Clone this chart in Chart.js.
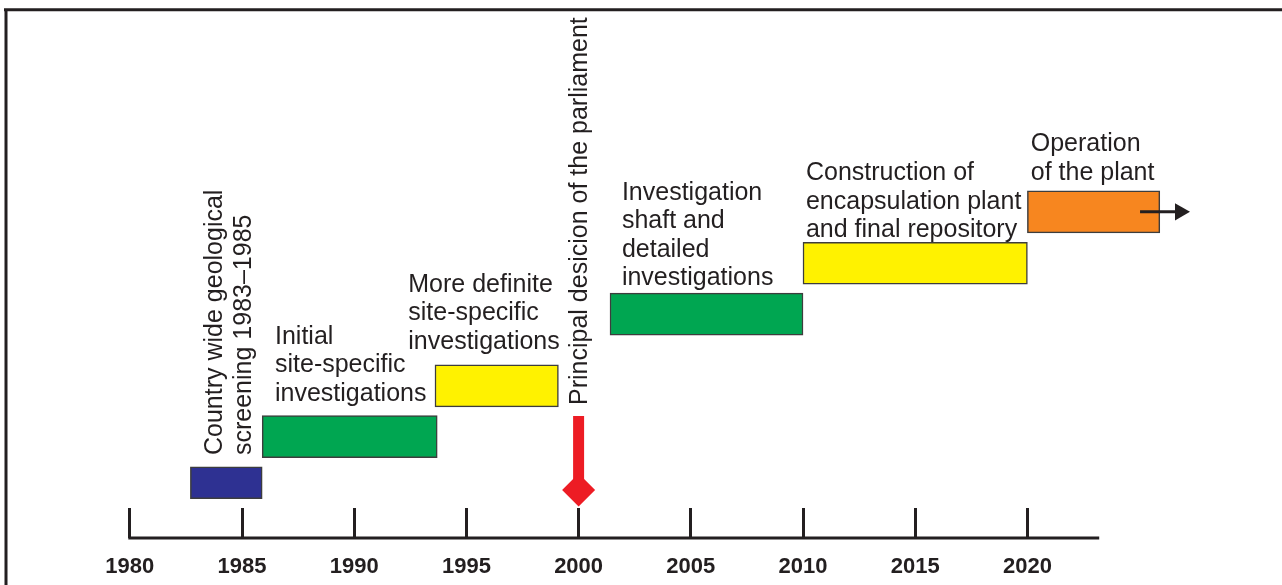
<!DOCTYPE html>
<html><head><meta charset="utf-8">
<script src="https://cdn.jsdelivr.net/npm/chart.js@4.4.1/dist/chart.umd.min.js"></script>
<style>html,body{margin:0;padding:0;background:#fff}canvas{display:block}</style>
</head><body>
<canvas id="c" width="1282" height="585"></canvas>
<script>
// ---- data ----
const phases = [
  'Country wide geological screening 1983–1985',
  'Initial site-specific investigations',
  'More definite site-specific investigations',
  'Investigation shaft and detailed investigations',
  'Construction of encapsulation plant and final repository',
  'Operation of the plant'
];
const startYears = [1982.7, 1985.9, 1993.6, 2001.4, 2010.0, 2020.0];
const endYears   = [1985.9, 1993.7, 1999.1, 2010.0, 2020.0, 2025.9];
const lanes      = [0.513, 1.451, 2.486, 3.943, 4.979, 6.026];
const phaseColors = ['#2e3192', '#00a651', '#fff200', '#00a651', '#fff200', '#f7861f'];
const tickYears = [1980, 1985, 1990, 1995, 2000, 2005, 2010, 2015, 2020];
const axisEndYear = 2023.2;
const decisionYear = 2000;
const decisionLevels = [1.872, 0.366];
const arrowYears = [2025.02, 2026.8];

const notes = [
  {lines: ['Country wide geological', 'screening 1983–1985'], year: 1984.11, level: 1.078, rotate: true},
  {lines: ['Principal desicion of the parliament'], year: 2000.37, level: 2.096, rotate: true},
  {lines: ['Initial', 'site-specific', 'investigations'], year: 1986.47, level: 3.337},
  {lines: ['More definite', 'site-specific', 'investigations'], year: 1992.41, level: 4.395},
  {lines: ['Investigation', 'shaft and', 'detailed', 'investigations'], year: 2001.93, level: 6.267},
  {lines: ['Construction of', 'encapsulation plant', 'and final repository'], year: 2010.13, level: 6.673},
  {lines: ['Operation', 'of the plant'], year: 2020.15, level: 7.263}
];

const INK = '#231f20';
const mainIdx = [1, 2, 3, 4, 5];
const smallIdx = [0];
const mkBar = (idx, thick) => ({
  type: 'bar',
  label: idx.map(i => phases[i]).join(' / '),
  data: idx.map(i => ({x: [startYears[i], endYears[i]], y: lanes[i]})),
  backgroundColor: idx.map(i => phaseColors[i]),
  borderColor: '#3d3d3d',
  borderWidth: 1.5,
  borderSkipped: false,
  grouped: false,
  barPercentage: 1,
  categoryPercentage: 1,
  maxBarThickness: thick,
  order: 5
});

const framePlugin = {
  id: 'frame',
  afterDraw(chart) {
    const {ctx, scales: {x}, chartArea} = chart;
    ctx.save();
    ctx.strokeStyle = INK;
    ctx.lineWidth = 3;
    ctx.beginPath();
    ctx.moveTo(4, 9.8); ctx.lineTo(1282, 9.8);
    ctx.moveTo(6, 8.3); ctx.lineTo(6, 585);
    ctx.stroke();
    // axis baseline
    const yb = chartArea.bottom + 30;
    ctx.beginPath();
    ctx.moveTo(x.getPixelForValue(tickYears[0]) - 1.5, yb);
    ctx.lineTo(x.getPixelForValue(axisEndYear), yb);
    ctx.stroke();
    ctx.restore();
  }
};

const notesPlugin = {
  id: 'notes',
  afterDatasetsDraw(chart) {
    const {ctx, scales: {x, y}} = chart;
    ctx.save();
    ctx.fillStyle = INK;
    ctx.font = '25px "Liberation Sans", Arial, sans-serif';
    ctx.textAlign = 'left';
    ctx.textBaseline = 'alphabetic';
    notes.forEach(n => {
      ctx.save();
      ctx.translate(x.getPixelForValue(n.year), y.getPixelForValue(n.level));
      if (n.rotate) ctx.rotate(-Math.PI / 2);
      n.lines.forEach((t, i) => ctx.fillText(t, 0, i * (n.rotate ? 29 : 28.5)));
      ctx.restore();
    });
    ctx.restore();
  }
};

new Chart(document.getElementById('c'), {
  data: {
    datasets: [
      mkBar(mainIdx, 42),
      mkBar(smallIdx, 32),
      {
        type: 'line',
        label: 'Principal decision',
        data: decisionLevels.map(l => ({x: decisionYear, y: l})),
        borderColor: '#ed1c24',
        borderWidth: 11,
        borderCapStyle: 'butt',
        pointRadius: [0, 16.5],
        pointStyle: 'rectRot',
        pointBackgroundColor: '#ed1c24',
        pointBorderWidth: 0,
        order: 1
      },
      {
        type: 'line',
        label: 'continues',
        data: arrowYears.map(v => ({x: v, y: lanes[5]})),
        borderColor: INK,
        borderWidth: 3,
        pointRadius: [0, 10],
        pointStyle: 'triangle',
        rotation: 90,
        pointBackgroundColor: INK,
        pointBorderWidth: 0,
        order: 0
      }
    ]
  },
  options: {
    indexAxis: 'y',
    responsive: false,
    animation: false,
    devicePixelRatio: 1,
    layout: {padding: {left: 129.8, right: 30.2, top: 0, bottom: 0}},
    plugins: {legend: {display: false}, tooltip: {enabled: false}},
    scales: {
      x: {
        type: 'linear',
        min: 1980, max: 2030,
        position: 'bottom',
        offset: false,
        afterFit: s => { s.height = 77; },
        border: {display: false},
        grid: {
          display: true,
          drawOnChartArea: false,
          drawTicks: true,
          tickLength: 30,
          tickWidth: 3,
          lineWidth: 3,
          color: c => (c.tick && c.tick.value <= tickYears[tickYears.length - 1]) ? INK : 'rgba(0,0,0,0)',
          tickColor: c => (c.tick && c.tick.value <= tickYears[tickYears.length - 1]) ? INK : 'rgba(0,0,0,0)'
        },
        ticks: {
          stepSize: 5,
          autoSkip: false,
          maxRotation: 0,
          padding: 16,
          color: INK,
          font: {family: '"Liberation Sans", Arial, sans-serif', weight: 'bold', size: 22},
          callback: v => tickYears.includes(v) ? String(v) : ''
        }
      },
      y: {
        type: 'linear',
        display: false,
        offset: false,
        min: 0, max: 10
      }
    }
  },
  plugins: [framePlugin, notesPlugin]
});
</script>
</body></html>
